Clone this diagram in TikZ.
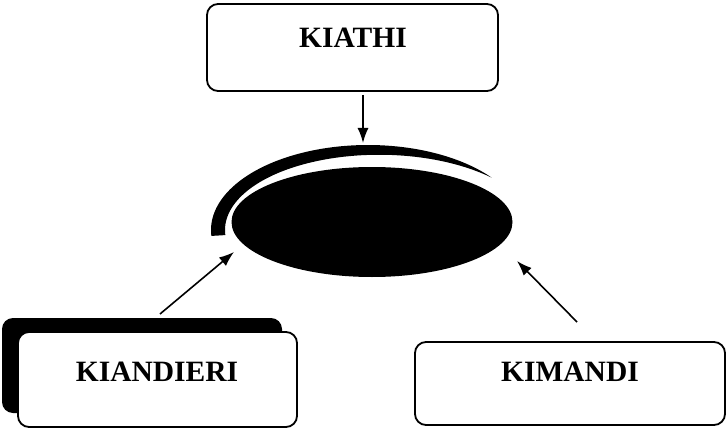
\documentclass[tikz,border=0pt]{standalone}
\usepackage{fontspec}
\setmainfont{Liberation Serif}
\usetikzlibrary{shapes.geometric,arrows.meta}
\begin{document}
\begin{tikzpicture}[x=1pt,y=-1pt,
  box/.style={draw=black, line width=1.8pt, rounded corners=11pt, fill=white, inner sep=0pt},
  lbl/.style={font=\fontsize{29.5}{30}\selectfont\bfseries},
  arr/.style={line width=1.6pt, -{Latex[length=15pt,width=11pt]}}]
\useasboundingbox (0,0) rectangle (728,433);
% top box
\node[box, minimum width=291pt, minimum height=87pt] (kiathi) at (352.5,47.5) {};
\node[lbl] (tkiathi) at (353,38) {KIATHI};
% crescent
\fill[black] plot[domain=176:322, samples=100] ({368+157*cos(\x)},{230+85*sin(\x)})
  -- plot[domain=322:176, samples=100]
     ({368+(157-14*(1-pow((\x-176)/146,4)))*cos(\x)},{230+(85-12*(1-pow((\x-176)/146,4)))*sin(\x)}) -- cycle;
% hub
\node[ellipse, fill=black, inner sep=0pt, minimum width=281pt, minimum height=110pt] (hub) at (372,222) {};
% left box with shadow
\fill[black, rounded corners=11pt] (2,318) rectangle (282,413);
\node[box, minimum width=279pt, minimum height=95pt] (kiandieri) at (157.5,379.5) {};
\node[lbl] (tkiandieri) at (157,372) {KIANDIERI};
% right box
\node[box, minimum width=310pt, minimum height=83pt] (kimandi) at (570,383.5) {};
\node[lbl] (tkimandi) at (570,372) {KIMANDI};
% arrow coordinates
\coordinate (a1s) at (363,95);
\coordinate (a1e) at (363,143);
\coordinate (a2s) at (160,314);
\coordinate (a2e) at (234,252);
\coordinate (a3s) at (577,322);
\coordinate (a3e) at (517,261);
\draw[arr] (a1s) -- (a1e);
\draw[arr] (a2s) -- (a2e);
\draw[arr] (a3s) -- (a3e);
\end{tikzpicture}
\end{document}
